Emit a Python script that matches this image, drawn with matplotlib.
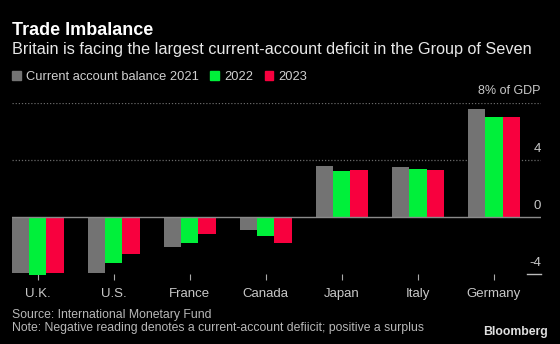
import matplotlib
matplotlib.use("Agg")
import matplotlib.pyplot as plt
from matplotlib.patches import Patch
import numpy as np

# data (% of GDP)
countries = ["U.K.", "U.S.", "France", "Canada", "Japan", "Italy", "Germany"]
balance_2021 = [-3.9, -3.9, -2.1, -0.9, 3.6, 3.5, 7.6]
balance_2022 = [-4.1, -3.2, -1.8, -1.3, 3.2, 3.4, 7.0]
balance_2023 = [-3.9, -2.6, -1.2, -1.8, 3.3, 3.3, 7.0]
years = ["Current account balance 2021", "2022", "2023"]
y_ticks = [-4, 0, 4]

BG = "#000000"
GRAY = "#737373"
GREEN = "#00f03a"
RED = "#f8003e"
plt.rcParams["font.family"] = ["Liberation Sans", "DejaVu Sans"]

fig = plt.figure(figsize=(5.6, 3.44), dpi=100, facecolor=BG)
ax = fig.add_axes([0.0214, 0.2035, 0.9446, 0.4971], facecolor=BG)

x = np.arange(len(countries))
w = 0.228
colors = [GRAY, GREEN, RED]
for i, vals in enumerate([balance_2021, balance_2022, balance_2023]):
    ax.bar(x + (i - 1) * w, vals, w, color=colors[i], clip_on=False, zorder=3)

ax.set_xlim(-0.34, 6.62)
ax.set_ylim(-4, 8)

# dotted gridlines and solid zero line
for v in [4, 8]:
    ax.axhline(v, color="#6a6a6a", lw=0.9, ls=(0, (1, 1.5)), zorder=1)
ax.axhline(0, color="#8a8a8a", lw=1.0, zorder=4)
ax.plot([6.44, 6.62], [-4, -4], color="#bbbbbb", lw=1.0, clip_on=False)

for s in ax.spines.values():
    s.set_visible(False)
ax.set_yticks([])
ax.set_xticks(x)
ax.set_xticklabels(countries, fontsize=9.5, color="#c8c8c8")
ax.tick_params(axis="x", length=4, width=0.8, color="#aaaaaa", pad=6, direction="out")

# y labels sit above their gridline on the right
for v in y_ticks:
    ax.text(6.62, v + 0.78, f"{v}", ha="right", va="center", fontsize=9.5, color="#c8c8c8")
ax.text(6.62, 8.82, "8% of GDP", ha="right", va="center", fontsize=9, color="#c8c8c8")

fig.text(0.022, 0.898, "Trade Imbalance", fontsize=13, fontweight="bold", color="white",
         va="baseline")
fig.text(0.022, 0.842, "Britain is facing the largest current-account deficit in the Group of Seven",
         fontsize=11.7, color="#e8e8e8", va="baseline")

handles = [Patch(color=c) for c in colors]
leg = fig.legend(handles, years, loc="center left", bbox_to_anchor=(0.022, 0.776), ncol=3,
                 frameon=False, fontsize=9.3, handlelength=0.65, handleheight=0.65,
                 handletextpad=0.4, columnspacing=0.9, borderpad=0, borderaxespad=0)
for t in leg.get_texts():
    t.set_color("#d0d0d0")

fig.text(0.022, 0.085, "Source: International Monetary Fund", fontsize=8.8, color="#b8b8b8", va="center")
fig.text(0.022, 0.047, "Note: Negative reading denotes a current-account defiicit; positive a surplus",
         fontsize=8.8, color="#b8b8b8", va="center")
fig.text(0.979, 0.035, "Bloomberg", fontsize=8.8, fontweight="bold", color="#e0e0e0",
         ha="right", va="center")

fig.savefig("out.png", dpi=100, facecolor=BG)
